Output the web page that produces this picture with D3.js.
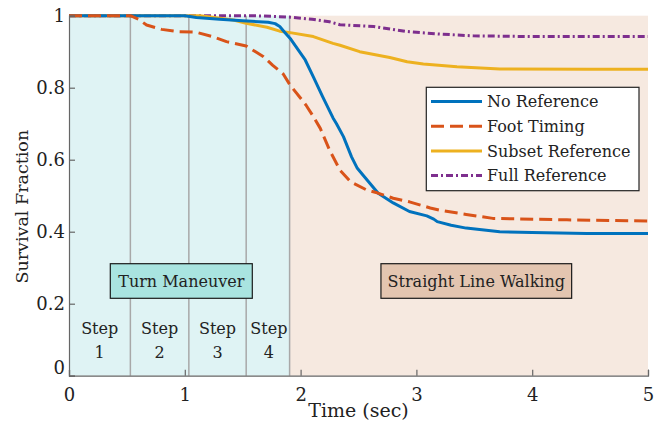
<!DOCTYPE html>
<html><head><meta charset="utf-8">
<script src="https://cdn.jsdelivr.net/npm/d3@7"></script>
<style>body{margin:0;background:#fff}svg{display:block}text{font-family:"DejaVu Serif",serif;fill:#222}</style>
</head><body><div id="chart"></div>
<script>
const noRef = [[0,1],[1.0,1],[1.1,0.995],[1.3,0.99],[1.5,0.986],[1.72,0.982],[1.78,0.978],[1.82,0.97],[1.86,0.955],[1.91,0.937],[1.99,0.90],[2.04,0.877],[2.11,0.83],[2.19,0.775],[2.28,0.716],[2.31,0.70],[2.37,0.664],[2.44,0.608],[2.49,0.576],[2.54,0.557],[2.67,0.507],[2.80,0.48],[2.94,0.456],[3.09,0.444],[3.15,0.435],[3.18,0.428],[3.3,0.418],[3.43,0.41],[3.72,0.40],[4.0,0.398],[4.47,0.395],[5,0.395]];
const footTiming = [[0,1],[0.53,1],[0.6,0.99],[0.67,0.974],[0.8,0.962],[0.93,0.956],[1.10,0.954],[1.24,0.942],[1.36,0.928],[1.53,0.916],[1.68,0.886],[1.76,0.862],[1.85,0.838],[1.91,0.807],[1.99,0.775],[2.05,0.75],[2.11,0.72],[2.17,0.687],[2.25,0.627],[2.34,0.571],[2.43,0.539],[2.57,0.516],[2.66,0.508],[2.80,0.493],[2.94,0.483],[3.12,0.466],[3.2,0.46],[3.43,0.448],[3.66,0.437],[4.3,0.433],[5,0.43]];
const subsetRef = [[0,1],[1.13,1],[1.24,0.996],[1.42,0.988],[1.53,0.979],[1.71,0.968],[1.82,0.957],[1.91,0.953],[2.11,0.942],[2.28,0.923],[2.34,0.918],[2.51,0.90],[2.77,0.884],[2.92,0.872],[3.06,0.866],[3.35,0.858],[3.72,0.852],[4.5,0.851],[5,0.851]];
const fullRef = [[0,1],[1.6,1],[1.91,0.996],[2.1,0.99],[2.25,0.983],[2.34,0.975],[2.63,0.97],[2.92,0.956],[3.2,0.949],[3.49,0.944],[4,0.942],[5,0.942]];
const seriesNames = ["No Reference","Foot Timing","Subset Reference","Full Reference"];
const stepBounds = [0, 0.53, 1.035, 1.53, 1.905];
const stepLabels = ["1","2","3","4"];
const phases = [{name:"Turn Maneuver", x0:0, x1:1.905}, {name:"Straight Line Walking", x0:1.905, x1:5}];
const xTicks = [0,1,2,3,4,5];
const yTicks = [0,0.2,0.4,0.6,0.8,1];

const W=665,H=426;
const m={l:69,r:17,t:15.7,b:50.3};
const svg=d3.select("#chart").append("svg").attr("width",W).attr("height",H);
const x=d3.scaleLinear().domain([0,5]).range([m.l,W-m.r]);
const y=d3.scaleLinear().domain([0,1]).range([H-m.b,m.t]);

const phaseFill=["#dff3f4","#f6e9e0"];
const boxFill=["#a9e4e0","#e3c5b0"];
svg.selectAll("rect.phase").data(phases).join("rect").attr("class","phase")
  .attr("x",d=>x(d.x0)).attr("width",d=>x(d.x1)-x(d.x0))
  .attr("y",y(1)).attr("height",y(0)-y(1)).attr("fill",(d,i)=>phaseFill[i]);

svg.selectAll("line.step").data(stepBounds.slice(1)).join("line")
  .attr("x1",d=>x(d)).attr("x2",d=>x(d)).attr("y1",y(0)).attr("y2",y(1))
  .attr("stroke","#a8a8a8").attr("stroke-width",1.5);

const stepG=svg.selectAll("g.steplab").data(stepLabels).join("g")
  .attr("transform",(d,i)=>`translate(${(x(stepBounds[i])+x(stepBounds[i+1]))/2+(i==3?1:0)},0)`);
stepG.append("text").attr("y",334).attr("text-anchor","middle").attr("font-size",16).text("Step");
stepG.append("text").attr("y",358).attr("text-anchor","middle").attr("font-size",16).text(d=>d);

const boxes=[{cx:181.3,w:142},{cx:476.3,w:190.7}];
phases.forEach((p,i)=>{
  const b=boxes[i];
  svg.append("rect").attr("x",b.cx-b.w/2).attr("y",263.7).attr("width",b.w).attr("height",34.6)
    .attr("fill",boxFill[i]).attr("stroke","#1a1a1a").attr("stroke-width",1.2);
  svg.append("text").attr("x",b.cx).attr("y",286.5).attr("text-anchor","middle").attr("font-size",16).text(p.name);
});

const line=d3.line().x(d=>x(d[0])).y(d=>y(d[1]));
const styles=[
 {c:"#0072BD",dash:null},
 {c:"#D95319",dash:"13,6"},
 {c:"#EDB120",dash:null},
 {c:"#7E2F8E",dash:"7,3,2,3"}];
const allSeries=[noRef,footTiming,subsetRef,fullRef];
[3,2,0,1].forEach(i=>{
  svg.append("path").datum(allSeries[i]).attr("d",line).attr("fill","none")
   .attr("stroke",styles[i].c).attr("stroke-width",3).attr("stroke-linejoin","round").attr("stroke-dasharray",styles[i].dash);
});

const axC="#666";
const xa=svg.append("g").attr("transform",`translate(0,${y(0)})`)
  .call(d3.axisBottom(x).tickValues(xTicks).tickSize(-6).tickPadding(10).tickFormat(d3.format("d")));
const ya=svg.append("g").attr("transform",`translate(${m.l},0)`)
  .call(d3.axisLeft(y).tickValues(yTicks).tickSize(-6).tickPadding(4).tickFormat(d=>d===0||d===1?String(d):d3.format(".1f")(d)));
[xa,ya].forEach(a=>{
  a.select(".domain").attr("stroke",axC).attr("stroke-width",1.2);
  a.selectAll(".tick line").attr("stroke",axC).attr("stroke-width",1.2);
  a.selectAll("text").attr("font-family","DejaVu Serif").attr("font-size",18).attr("fill","#222");
});
xa.selectAll("text").attr("dy","0.85em");
ya.selectAll(".tick").filter(d=>d===0).select("text").attr("dy","-0.15em");

svg.append("text").attr("x",(x(0)+x(5))/2).attr("y",417).attr("text-anchor","middle").attr("font-size",19).text("Time (sec)");
svg.append("text").attr("transform",`translate(28,${(y(0)+y(1))/2+11}) rotate(-90)`).attr("text-anchor","middle").attr("font-size",17.5).text("Survival Fraction");

const lg=svg.append("g");
lg.append("rect").attr("x",426.3).attr("y",87.3).attr("width",212.7).attr("height",103.4)
  .attr("fill","#fff").attr("stroke","#222").attr("stroke-width",1.2);
seriesNames.forEach((n,i)=>{
  const yy=101.5+i*24.7;
  lg.append("line").attr("x1",431).attr("x2",482).attr("y1",yy).attr("y2",yy)
    .attr("stroke",styles[i].c).attr("stroke-width",3).attr("stroke-dasharray",styles[i].dash);
  lg.append("text").attr("x",487).attr("y",yy).attr("dy","0.35em").attr("font-size",16).text(n);
});
</script></body></html>
